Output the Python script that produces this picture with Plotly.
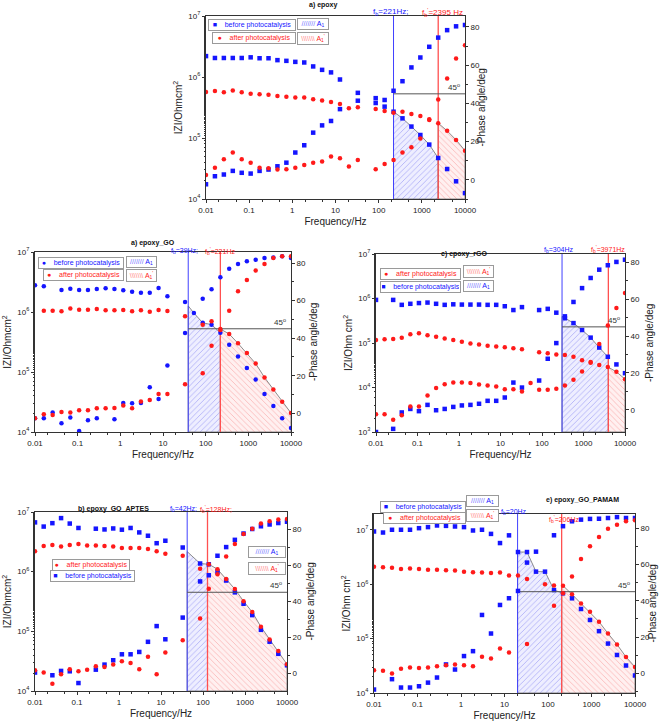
import numpy as np
import plotly.graph_objects as go

W, H = 662, 723
BLUE = "#1515ff"
RED = "#ff1a1a"
FONT = "Liberation Sans, Arial, sans-serif"

# Frequencies (Hz), shared by all panels
freq = [0.01, 0.0161, 0.02593, 0.04175, 0.06723, 0.1083, 0.1743, 0.2807, 0.452, 0.7279,
        1.172, 1.887, 3.039, 4.894, 7.88, 12.69, 20.43, 32.9, 52.98, 85.32,
        137.4, 221.2, 356.2, 573.6, 923.7, 1487, 2395, 3857, 6210, 10000]
N = None

# ---- a) epoxy
a_blue_z = [2.2e6, 2.05e6, 2.05e6, 2.05e6, 2.05e6, 2.1e6, 2.03e6, 2.03e6, 1.89e6, 1.84e6,
            1.77e6, 1.73e6, 1.49e6, 1.31e6, 1.19e6, 9.1e5, N, 5.5e5, N, 4.5e5,
            4.2e5, 2.7e5, 2.1e5, 1.54e5, 1.12e5, 7.8e4, 4.7e4, 3.1e4, 1.95e4, 1.25e4]
a_blue_ph = [-2.3, 1.9, 2.8, 4.7, 3.7, 3.3, 4.7, 5.4, 7.1, 9.0,
             14.3, 18.1, 24.7, 28.5, 30.8, 37.0, N, 41.4, N, 40.2,
             38.3, 46.6, 51.6, 58.8, 64.0, 69.6, 74.4, 78.3, 80.3, 81.0]
a_red_z = [5.7e5, 5.9e5, 5.6e5, 6.0e5, 5.6e5, 5.3e5, 5.2e5, 5.1e5, 4.9e5, 4.75e5,
           4.6e5, 4.6e5, 4.3e5, 4.1e5, 3.9e5, 3.6e5, 3.07e5, 3.2e5, N, 3.0e5,
           2.77e5, 2.6e5, 2.7e5, 2.48e5, 2.3e5, 2.03e5, 1.75e5, 1.31e5, 9.3e4, 6.2e4]
a_red_ph = [2.6, 6.4, 10.8, 14.3, 10.8, 9.0, 6.4, 6.1, 5.4, 5.6,
            6.4, 7.8, 9.0, 9.6, 12.2, 11.3, 7.0, 10.4, N, 5.6,
            8.3, 10.4, 14.3, 17.0, 21.7, 31.3, 42.0, 53.0, 63.5, 70.4]

# ---- a) epoxy_GO
go_blue_z = [2.78e6, 2.68e6, N, 2.33e6, 2.45e6, 2.33e6, 2.33e6, 2.42e6, 2.48e6, 2.42e6,
             2.3e6, 2.18e6, 2.1e6, 2.1e6, 2.5e6, 1.83e6, N, 1.47e6, 9.6e5, 6.6e5,
             6.15e5, 4.5e5, 2.85e5, 1.82e5, 1.17e5, 7.5e4, 4.3e4, 2.7e4, 1.7e4, 1.17e4]
go_blue_ph = [-2.7, -2.7, 0.4, -5.3, -2.3, -9.5, -3.7, -2.7, N, -3.2,
              5.5, 5.3, 5.5, 13.9, 7.6, 25.4, N, 42.7, N, 61.0,
              66.0, 72.5, 77.0, 79.5, 81.0, 81.8, 82.7, 83.0, 83.6, 82.7]
go_red_z = [N, 1.05e6, 1.05e6, 1.03e6, 1.14e6, 1.09e6, 1.09e6, 1.12e6, 1.07e6, 1.07e6,
            1.08e6, 1.03e6, 1.07e6, 1.01e6, 1.08e6, 1.04e6, N, 8.5e5, N, 6.15e5,
            7.0e5, 5.2e5, 4.3e5, 3.0e5, 2.07e5, 1.38e5, 8.1e4, 5.1e4, 3.2e4, 2.07e4]
go_red_ph = [-2.7, -0.5, -0.9, 0.7, 0.4, 1.6, 1.6, 2.7, 2.7, 2.8,
             4.1, 2.7, 6.2, 7.1, 10.3, 10.3, N, 15.5, N, 21.3,
             36.0, 44.4, 54.6, 65.0, 71.0, 76.0, 79.5, 82.7, 83.6, 83.6]

# ---- c) epoxy_rGO
rgo_blue_z = [9.3e5, N, 9.3e5, 7.2e5, 7.6e5, 7.9e5, 8.1e5, 7.6e5, 7.2e5, 7.4e5,
              7.3e5, 7.3e5, 7.3e5, 7.2e5, 7.2e5, 6.7e5, 5.5e5, 6.4e5, N, 5.5e5,
              5.85e5, 4.8e5, 3.6e5, 2.8e5, 1.96e5, 1.32e5, 7.9e4, 4.9e4, 3.3e4, 2.1e4]
rgo_blue_ph = [-12.0, N, -10.3, -1.4, 0.5, -0.7, 2.7, -0.2, 0.5, 1.6,
               2.4, 2.7, 3.3, 4.9, 4.9, 6.7, 14.8, 12.1, N, 15.9,
               27.7, 36.2, 50.7, 58.5, 66.0, 71.5, 76.0, 78.4, 80.2, 81.4]
rgo_red_z = [1.17e5, 1.21e5, 1.23e5, 1.32e5, 1.57e5, 1.65e5, 1.49e5, 1.39e5, 1.27e5, 1.17e5,
             1.07e5, 9.8e4, 9.3e4, 8.7e4, 8.3e4, 8.0e4, 7.6e4, 7.2e4, N, 6.2e4,
             5.85e4, 5.55e4, 5.4e4, 4.9e4, 4.1e4, 3.6e4, 3.2e4, 2.9e4, 2.25e4, 1.54e4]
rgo_red_ph = [-2.4, -2.4, -5.4, -2.9, 1.8, 1.8, 7.8, 11.8, 13.9, 14.8,
              14.8, 14.5, 13.8, 13.2, 12.7, 11.2, 11.2, 10.0, 14.5, 10.9,
              10.9, 11.4, 13.2, 16.3, 20.8, 26.0, 35.7, 45.8, 55.2, 63.3]

# ---- b) epoxy_GO_APTES
ap_blue_z = [6.7e6, 5.7e6, 6.5e6, 7.9e6, 6.4e6, 5.4e6, N, 5.25e6, 5.1e6, 5.3e6,
             5.05e6, 5.4e6, 4.55e6, 4.0e6, 3.0e6, 3.3e6, N, 2.54e6, N, 1.37e6,
             1.33e6, 1.0e6, 7.1e5, 4.5e5, 2.9e5, 1.87e5, 1.06e5, 6.7e4, 4.2e4, 2.7e4]
ap_blue_ph = [0.6, N, -0.9, 1.5, 1.3, -5.2, N, 2.2, 5.0, 7.4,
              10.7, 10.7, 12.0, 17.6, 26.3, 19.0, N, 31.0, N, 51.0,
              54.4, 65.2, 70.0, 74.0, 77.5, 80.0, 81.5, 82.5, 83.3, 84.0]
ap_red_z = [2.2e6, 2.7e6, 2.8e6, 2.65e6, 2.8e6, 2.9e6, 2.75e6, 2.75e6, 2.7e6, 2.65e6,
            2.5e6, 2.5e6, 2.5e6, 2.4e6, 2.2e6, 2.0e6, N, 1.84e6, N, 1.12e6,
            1.33e6, 1.1e6, 7.5e5, 5.1e5, 3.2e5, 2.1e5, 1.19e5, 7.3e4, 4.7e4, 2.8e4]
ap_red_ph = [1.9, 0.6, -5.6, -0.4, 2.4, 1.3, 2.2, 4.1, 3.7, 5.0,
             6.9, 5.9, 2.4, 9.3, -0.4, 11.7, N, 18.5, N, 30.5,
             46.9, 55.0, 64.8, 71.7, 77.2, 80.2, 83.0, 84.3, 85.2, 85.5]

# ---- e) epoxy_GO_PAMAM
pm_blue_z = [9.3e6, 8.9e6, 1.0e7, 1.0e7, 1.0e7, 1.07e7, 1.12e7, 1.2e7, 1.18e7, 1.15e7,
             1.12e7, 9.7e6, 1.0e7, 8.4e6, 5.7e6, 7.9e6, 3.9e6, 3.9e6, 1.7e6, 1.7e6,
             7.8e5, 6.8e5, 5.5e5, 3.5e5, 2.2e5, 1.37e5, 8.1e4, 5.0e4, 3.2e4, 2.1e4]
pm_blue_ph = [-8.8, N, -3.1, -7.7, -7.7, -7.0, -5.0, -2.2, 5.0, 2.2,
              9.6, 12.3, 32.2, 22.0, 37.7, 41.4, 45.4, 61.0, 67.0, N,
              76.0, 81.0, 83.7, 84.6, 85.0, 85.1, 85.5, 86.0, 85.5, 85.5]
pm_red_z = [2.1e6, 2.05e6, 2.0e6, 1.9e6, 1.95e6, 1.9e6, 1.85e6, 1.85e6, 1.8e6, 1.78e6,
            1.7e6, 1.66e6, 1.64e6, 1.6e6, 1.64e6, 1.44e6, 1.44e6, 1.25e6, N, 1.0e6,
            9.5e5, 9.4e5, 6.5e5, 4.4e5, 3.1e5, 2.04e5, 1.24e5, 7.8e4, 4.6e4, 3.0e4]
pm_red_ph = [1.8, 1.5, 0.0, 2.6, 3.3, 3.1, 3.3, 4.0, 4.6, 5.0,
             4.6, 4.0, 9.2, 8.3, 13.8, 11.6, N, 16.2, N, N,
             37.3, 44.1, 53.3, 63.0, 70.0, 75.0, 79.6, 81.8, 83.7, 84.2]

# break-point frequencies (blue f_b, red f_b')
fb_blue = [221, 39, 304, 42, 20]
fb_red = [2395, 221, 3971, 128, 206]
fb_blue_lbl = ["221Hz;", "39Hz;", "304Hz", "42Hz;", "20Hz"]
fb_red_lbl = ["2395 Hz", "221Hz", "3971Hz", "128Hz;", "206Hz"]
titles = ["a) epoxy", "a) epoxy_GO", "c) epoxy_rGO", "b) epoxy_GO_APTES", "e) epoxy_GO_PAMAM"]
zlabels = ["IZI/Ohmcm<sup>2</sup>", "IZI/Ohmcm<sup>2</sup>", "IZI/Ohm cm<sup>2</sup>",
           "IZI/Ohmcm<sup>2</sup>", "IZI/Ohm cm<sup>2</sup>"]
phase_label = "-Phase angle/deg"
x_ticks = [0.01, 0.1, 1, 10, 100, 1000, 10000]
x_ticktext = ["0.01", "0.1", "1", "10", "100", "1000", "10000"]
phase_ticks = [0, 20, 40, 60, 80]
leg_before = "before photocatalysis"
leg_after = "after photocatalysis"

panels = [
    dict(bz=a_blue_z, bp=a_blue_ph, rz=a_red_z, rp=a_red_ph, bsym="square",
         box=(206, 16, 465, 199), zr=(4, 7), pr=(-10, 85.7), ptitle_x=481,
         legend=[("b", 208, 19, 296), ("r", 212, 32, 296), ("pb", 297, 18, 329), ("pr", 297, 32, 329)],
         title_xy=(323, 5), lbl_font=8, lbl_dy=(4, 4), lbl_dx=(-3, 4)),
    dict(bz=go_blue_z, bp=go_blue_ph, rz=go_red_z, rp=go_red_ph, bsym="circle",
         box=(35, 252, 291, 432), zr=(4, 7), pr=(-10, 85.9), ptitle_x=313,
         legend=[("b", 38, 257, 124), ("r", 43, 269, 124), ("pb", 126, 256, 157), ("pr", 126, 269, 157)],
         title_xy=(153, 243), lbl_font=7, lbl_dy=(1, 1), lbl_dx=(-4, 0)),
    dict(bz=rgo_blue_z, bp=rgo_blue_ph, rz=rgo_red_z, rp=rgo_red_ph, bsym="square",
         box=(376, 254, 625, 432), zr=(3, 7), pr=(-12, 84.5), ptitle_x=649,
         legend=[("r", 380, 268, 461), ("b", 380, 281, 461), ("pr", 463, 265, 494), ("pb", 463, 280, 494)],
         title_xy=(464, 254), lbl_font=7, lbl_dy=(4, 4), lbl_dx=(-3, 0)),
    dict(bz=ap_blue_z, bp=ap_blue_ph, rz=ap_red_z, rp=ap_red_ph, bsym="square",
         box=(35, 512, 287, 691), zr=(4, 7), pr=(-9.6, 89.4), ptitle_x=310,
         legend=[("r", 52, 559, 130), ("b", 50, 570, 135), ("pb", 248, 546, 286), ("pr", 248, 562, 286)],
         title_xy=(113, 509), lbl_font=7, lbl_dy=(3, 3), lbl_dx=(-4, 8)),
    dict(bz=pm_blue_z, bp=pm_blue_ph, rz=pm_red_z, rp=pm_red_ph, bsym="square",
         box=(374, 514, 635, 693), zr=(4, 7.29), pr=(-10.7, 87.7), ptitle_x=652,
         legend=[("b", 380, 501, 466), ("r", 383, 512, 466), ("pb", 466, 495, 499), ("pr", 466, 509, 499)],
         title_xy=(582, 500), lbl_font=7, lbl_dy=(2, -5), lbl_dx=(-4, 2)),
]


def clean(f, z):
    pts = [(fi, zi) for fi, zi in zip(f, z) if zi is not None]
    return [p[0] for p in pts], [p[1] for p in pts]


def hatch_poly(f, z, f1, f2, floor):
    fx, zy = clean(f, z)
    lf, lz = np.log10(fx), np.log10(zy)
    z1 = 10 ** np.interp(np.log10(f1), lf, lz)
    z2 = 10 ** np.interp(np.log10(f2), lf, lz)
    inner = [(a, b) for a, b in zip(fx, zy) if f1 < a < f2]
    xs = [f1] + [p[0] for p in inner] + [f2, f2, f1, f1]
    ys = [z1] + [p[1] for p in inner] + [z2, floor, floor, z1]
    return xs, ys


fig = go.Figure()
layout = dict(width=W, height=H, margin=dict(l=0, r=0, t=0, b=0, autoexpand=False),
              paper_bgcolor="white", plot_bgcolor="white",
              font=dict(family=FONT, size=8, color="#222"), showlegend=False)
annotations = []

for i, p in enumerate(panels):
    n = i + 1
    xa = f"x{n}" if n > 1 else "x"
    yl_id = 2 * n - 1
    yr_id = 2 * n
    yl = f"y{yl_id}" if yl_id > 1 else "y"
    yr = f"y{yr_id}"
    L, T, R, B = p["box"]
    lo, hi = p["zr"]
    floor = 10 ** lo

    # hatched areas
    bx, by = hatch_poly(freq, p["bz"], fb_blue[i], fb_red[i], floor)
    rx, ry = hatch_poly(freq, p["rz"], fb_red[i], 10000, floor)
    fig.add_trace(go.Scatter(
        x=bx, y=by, mode="lines", fill="toself", fillcolor="rgba(90,90,255,0.10)",
        fillpattern=dict(shape="/", fgcolor="rgba(40,40,230,0.75)", size=4, solidity=0.18),
        line=dict(color="#707070", width=0.8), xaxis=xa, yaxis=yl, hoverinfo="skip"))
    fig.add_trace(go.Scatter(
        x=rx, y=ry, mode="lines", fill="toself", fillcolor="rgba(255,110,110,0.10)",
        fillpattern=dict(shape="\\", fgcolor="rgba(240,60,60,0.75)", size=4, solidity=0.18),
        line=dict(color="#707070", width=0.8), xaxis=xa, yaxis=yl, hoverinfo="skip"))

    # break-point verticals and 45 degree line
    fig.add_trace(go.Scatter(x=[fb_blue[i], fb_blue[i]], y=[floor, 10 ** hi], mode="lines",
                             line=dict(color="#4040ff", width=1), xaxis=xa, yaxis=yl,
                             hoverinfo="skip"))
    fig.add_trace(go.Scatter(x=[fb_red[i], fb_red[i]], y=[floor, 10 ** hi], mode="lines",
                             line=dict(color="#ff5050", width=1.3), xaxis=xa, yaxis=yl,
                             hoverinfo="skip"))
    fig.add_trace(go.Scatter(x=[fb_blue[i], 10000], y=[45, 45], mode="lines",
                             line=dict(color="#555555", width=1), xaxis=xa, yaxis=yr,
                             hoverinfo="skip"))

    # data markers
    fig.add_trace(go.Scatter(x=freq, y=p["bz"], mode="markers", xaxis=xa, yaxis=yl,
                             marker=dict(symbol=p["bsym"], size=4.5, color=BLUE),
                             name=leg_before))
    fig.add_trace(go.Scatter(x=freq, y=p["bp"], mode="markers", xaxis=xa, yaxis=yr,
                             marker=dict(symbol=p["bsym"], size=4.5, color=BLUE),
                             name=leg_before))
    fig.add_trace(go.Scatter(x=freq, y=p["rz"], mode="markers", xaxis=xa, yaxis=yl,
                             marker=dict(symbol="circle", size=4.5, color=RED),
                             name=leg_after))
    fig.add_trace(go.Scatter(x=freq, y=p["rp"], mode="markers", xaxis=xa, yaxis=yr,
                             marker=dict(symbol="circle", size=4.5, color=RED),
                             name=leg_after))

    xdom = [L / W, R / W]
    ydom = [1 - B / H, 1 - T / H]
    axis_common = dict(showline=True, linecolor="#333", linewidth=1, ticks="outside",
                       tickcolor="#333", ticklen=3, showgrid=False, zeroline=False,
                       automargin=False,
                       tickfont=dict(size=8, family=FONT, color="#222"))
    layout[f"xaxis{n}" if n > 1 else "xaxis"] = dict(
        axis_common, domain=xdom, anchor=yl, type="log", range=[-2, 4],
        tickvals=x_ticks, ticktext=x_ticktext, mirror=True,
        minor=dict(ticks="outside", ticklen=1.5, tickcolor="#333"),
        title=dict(text="Frequency/Hz", font=dict(size=10, family=FONT, color="#222"),
                   standoff=4))
    layout[f"yaxis{yl_id}" if yl_id > 1 else "yaxis"] = dict(
        axis_common, domain=ydom, anchor=xa, type="log", range=[lo, hi],
        tickvals=[10 ** k for k in range(int(lo), 8)],
        ticktext=[f"10<sup>{k}</sup>" for k in range(int(lo), 8)],
        minor=dict(ticks="outside", ticklen=1.5, tickcolor="#333"),
        title=dict(text=zlabels[i], font=dict(size=10, family=FONT, color="#222"),
                   standoff=3))
    layout[f"yaxis{yr_id}"] = dict(
        axis_common, overlaying=yl, anchor=xa, side="right", range=list(p["pr"]),
        tickvals=phase_ticks, minor=dict(ticks="outside", ticklen=1.5, dtick=10,
                                         tickcolor="#333"))
    annotations.append(dict(text=phase_label, textangle=-90, x=p["ptitle_x"] / W,
                            y=1 - (T + B) / 2 / H, xref="paper", yref="paper",
                            xanchor="center", yanchor="middle", showarrow=False,
                            font=dict(size=10, family=FONT, color="#222")))

    # legend boxes (text boxes)
    for kind, lx, ty, rx_ in p["legend"]:
        if kind in ("b", "r"):
            col = BLUE if kind == "b" else RED
            glyph = ("■" if p["bsym"] == "square" else "●") if kind == "b" else "●"
            label = leg_before if kind == "b" else leg_after
            txt = (f"<span style='color:{col}'>{glyph}</span>    "
                   f"<span style='color:{col}'>{label}</span>")
        else:
            if kind == "pb":
                txt = (f"<span style='color:#6f6fff'>{'/' * 7}</span> "
                       f"<span style='color:{BLUE}'>A<sub>1</sub></span>")
            else:
                txt = (f"<span style='color:#ff7f7f'>{chr(92) * 7}</span> "
                       f"<span style='color:{RED}'>A<sub>1</sub><sup>'</sup></span>")
        annotations.append(dict(
            text=txt, x=lx / W, y=1 - ty / H, xref="paper", yref="paper",
            xanchor="left", yanchor="top", showarrow=False, align="center",
            width=rx_ - lx - 4, bgcolor="white", bordercolor="#9a9a9a", borderwidth=1,
            borderpad=1, font=dict(size=7, family=FONT, color="#222")))

    # titles and labels
    tx, ty = p["title_xy"]
    annotations.append(dict(text=f"<b>{titles[i]}</b>", x=tx / W, y=1 - ty / H,
                            xref="paper", yref="paper", showarrow=False,
                            xanchor="center", yanchor="middle",
                            font=dict(size=7, family=FONT, color="#111")))
    xd = f"{xa} domain"
    yd = f"{yl} domain"
    annotations.append(dict(text=f"f<sub>b</sub>={fb_blue_lbl[i]}", x=np.log10(fb_blue[i]),
                            xref=xa, y=1, yref=yd, yanchor="middle", xanchor="center",
                            xshift=p["lbl_dx"][0], yshift=p["lbl_dy"][0], showarrow=False,
                            font=dict(size=p["lbl_font"], family=FONT, color=BLUE)))
    annotations.append(dict(text=f"f<sub>b</sub><sup>'</sup>={fb_red_lbl[i]}",
                            x=np.log10(fb_red[i]), xref=xa, y=1, yref=yd,
                            yanchor="middle", xanchor="center",
                            xshift=p["lbl_dx"][1], yshift=p["lbl_dy"][1], showarrow=False,
                            font=dict(size=p["lbl_font"], family=FONT, color=RED)))
    annotations.append(dict(text="45<sup>o</sup>", x=1, xref=xd, y=45, yref=yr,
                            xanchor="right", yanchor="bottom", xshift=-3, showarrow=False,
                            font=dict(size=8, family=FONT, color="#333")))

layout["annotations"] = annotations
fig.update_layout(**layout)
fig.write_html("out.html", config={"displayModeBar": False},
               post_script="document.body.style.margin='0px';document.body.style.padding='0px';")
